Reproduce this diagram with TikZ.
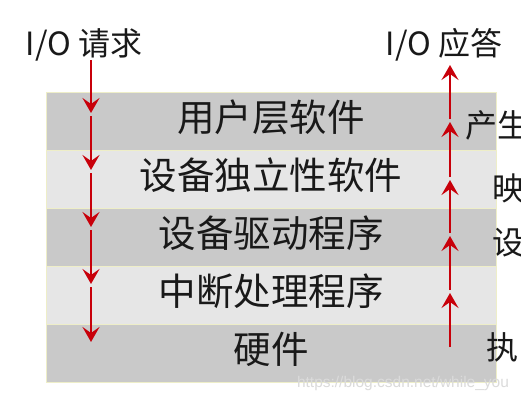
\documentclass[tikz,border=0pt]{standalone}
\usepackage{fontspec}
\setmainfont{Noto Sans CJK SC}
\newfontfamily\wmfont{Liberation Sans}
\usetikzlibrary{arrows.meta}
\definecolor{rowdark}{RGB}{201,201,201}
\definecolor{rowlight}{RGB}{230,230,230}
\definecolor{rowedge}{RGB}{238,238,200}
\definecolor{arrowred}{RGB}{200,0,10}
\definecolor{txt}{RGB}{25,25,25}
\tikzset{
  layer/.style={draw=rowedge, line width=0.8pt, minimum width=450pt, minimum height=58pt,
    inner sep=0pt, outer sep=0pt, anchor=north west},
  label/.style={text=txt, font=\fontsize{37.5}{37.5}\selectfont, inner sep=0pt},
  title/.style={text=txt, font=\fontsize{32}{32}\selectfont, inner sep=0pt},
  side/.style={text=txt, font=\fontsize{32}{32}\selectfont, inner sep=0pt, anchor=west},
  flow/.style={draw=arrowred, line width=2.8pt,
    -{Stealth[length=15pt,width=17pt,inset=6pt]}},
  flowgap/.style={flow, shorten <=3pt},
}
\begin{document}
\begin{tikzpicture}[x=1pt,y=-1pt]
\useasboundingbox[fill=white] (0,0) rectangle (521,401);
% layers
\node[layer, fill=rowdark]  (r1) at (46,92)  {};
\node[layer, fill=rowlight] (r2) at (46,150) {};
\node[layer, fill=rowdark]  (r3) at (46,208) {};
\node[layer, fill=rowlight] (r4) at (46,266) {};
\node[layer, fill=rowdark]  (r5) at (46,324) {};
\node[label] (t1) at (271,117) {用户层软件};
\node[label] (t2) at (271,175) {设备独立性软件};
\node[label] (t3) at (271,233) {设备驱动程序};
\node[label] (t4) at (271,291) {中断处理程序};
\node[label] (t5) at (271,349) {硬件};
% titles
\node[title] (req) at (84,45) {I/O 请求};
\node[title] (ans) at (444,45) {I/O 应答};
% side labels (cut by the page edge, as in the reference)
\node[side] (s1) at (465,125) {产生};
\node[side] (s2) at (492,188) {映};
\node[side] (s3) at (492,243) {设};
\node[side] (s4) at (486,347) {执};
% watermark
\node[text=white!86!black, font=\wmfont\fontsize{15.5}{15.5}\selectfont, inner sep=0pt] (wm) at (403,383) {https://blog.csdn.net/while\_you};
% request arrow coordinates
\coordinate (l0) at (91,60);
\coordinate (l1) at (91,113);
\coordinate (l2) at (91,170);
\coordinate (l3) at (91,227);
\coordinate (l4) at (91,284);
\coordinate (l5) at (91,342);
\draw[flow] (l0) -- (l1);
\draw[flowgap] (l1) -- (l2);
\draw[flowgap] (l2) -- (l3);
\draw[flowgap] (l3) -- (l4);
\draw[flowgap] (l4) -- (l5);
% answer arrow coordinates
\coordinate (a0) at (450,347);
\coordinate (a1) at (450,293);
\coordinate (a2) at (450,236);
\coordinate (a3) at (450,180);
\coordinate (a4) at (450,122);
\coordinate (a5) at (450,65);
\draw[flow] (a0) -- (a1);
\draw[flowgap] (a1) -- (a2);
\draw[flowgap] (a2) -- (a3);
\draw[flowgap] (a3) -- (a4);
\draw[flowgap] (a4) -- (a5);
\end{tikzpicture}
\end{document}
